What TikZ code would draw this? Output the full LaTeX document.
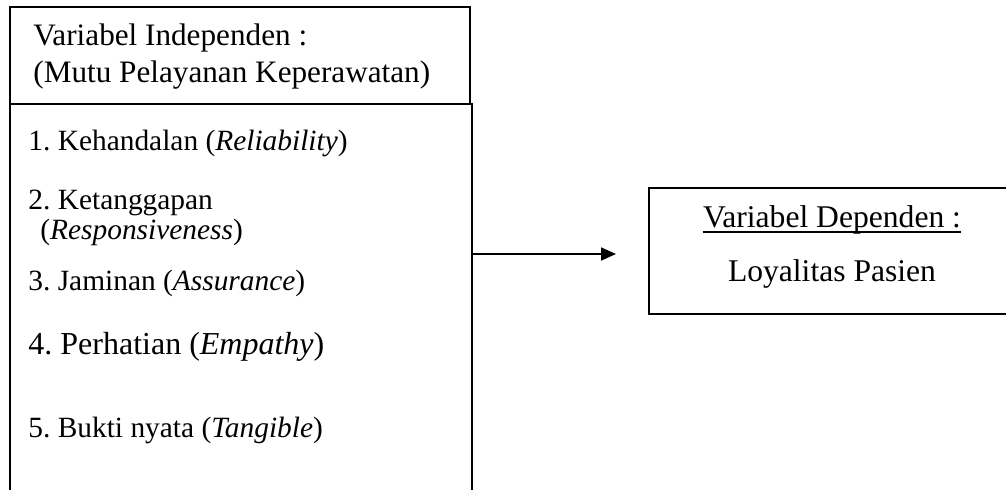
\documentclass[tikz,border=0pt]{standalone}
\usepackage{fontspec}
\setmainfont{Liberation Serif}
\usetikzlibrary{arrows.meta,positioning,calc}
\frenchspacing

\begin{document}
\begin{tikzpicture}[
  x=0.5pt,y=-0.5pt,
  varbox/.style={draw=black,line width=0.75pt,inner sep=0pt},
  hdrtext/.style={anchor=base west,inner sep=0pt,font=\fontsize{15.6}{18}\selectfont},
  itemtext/.style={anchor=base west,inner sep=0pt,font=\fontsize{14.7}{17}\selectfont},
  deptext/.style={anchor=base,inner sep=0pt,font=\fontsize{15.8}{18}\selectfont},
  arr/.style={-{Triangle[length=7.5pt,width=6.5pt]},line width=0.9pt}
]
\path[use as bounding box] (0,0) rectangle (1006,489);
\clip (0,0) rectangle (1006,489);
% boxes
\node[varbox,minimum width=230pt,minimum height=48.5pt] (indep) at (240,55.5) {};
\node[varbox,minimum width=231pt,minimum height=198pt] (items) at (241,302) {};
\node[varbox,minimum width=183pt,minimum height=63pt] (dep) at (832,251) {};
% independent variable
\node[hdrtext] (hdrA) at (33,45) {Variabel Independen :};
\node[hdrtext] (hdrB) at (33,82) {(Mutu Pelayanan Keperawatan)};
\node[itemtext] (itemA) at (28,150) {1. Kehandalan (\textit{Reliability})};
\node[itemtext] (itemB) at (28,209) {2. Ketanggapan};
\node[itemtext] (itemBb) at (40,239) {(\textit{Responsiveness})};
\node[itemtext] (itemC) at (28,290) {3. Jaminan (\textit{Assurance})};
\node[itemtext,font=\fontsize{16}{19}\selectfont] (itemD) at (28,354) {4. Perhatian (\textit{Empathy})};
\node[itemtext] (itemE) at (28,437) {5. Bukti nyata (\textit{Tangible})};
% dependent variable
\node[deptext] (depA) at (832,227) {Variabel Dependen :};
\draw[line width=0.6pt] ([yshift=-2.5pt]depA.base west) -- ([yshift=-2.5pt]depA.base east);
\node[deptext] (depB) at (832,281) {Loyalitas Pasien};
% arrow
\coordinate (tip) at (616,254);
\draw[arr] (tip -| items.east) -- (tip);
\end{tikzpicture}
\end{document}
